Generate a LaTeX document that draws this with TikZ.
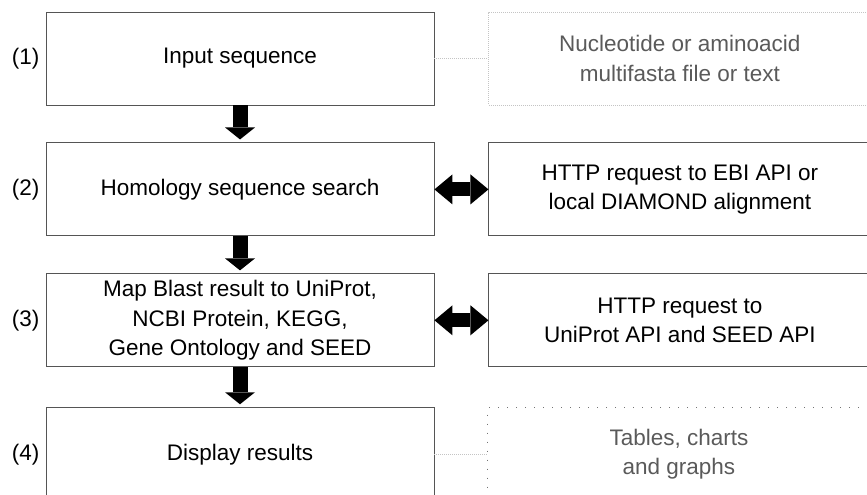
\documentclass[tikz,border=0pt]{standalone}
\usepackage{fontspec}
\setmainfont{Liberation Sans}
\usepackage{xcolor}
\usetikzlibrary{positioning,arrows.meta}

\definecolor{boxgray}{HTML}{555555}
\definecolor{dotgray}{HTML}{C4C4C4}
\definecolor{txtgray}{HTML}{5A5A5A}

\begin{document}
\begin{tikzpicture}[
    x=1pt, y=1pt,
    font=\fontsize{22.5}{29.5}\selectfont,
    node distance=37pt and 54pt,
    stage/.style={rectangle, draw=boxgray, line width=0.9pt, minimum width=388pt, minimum height=93pt, align=center, inner sep=0pt},
    service/.style={stage, minimum width=382pt},
    note/.style={rectangle, draw=dotgray, line width=0.8pt, dash pattern=on 1pt off 1pt, minimum width=382pt, minimum height=93pt, align=center, inner sep=0pt, text=txtgray},
    sparse/.style={note, draw=gray!110, line width=1pt, dash pattern=on 1.3pt off 7.7pt},
    tag/.style={inner sep=0pt},
    fat/.style={-{Triangle[width=30pt,length=12pt,line width=0pt]}, line width=15pt, shorten >=3pt},
    fatboth/.style={{Triangle[width=30pt,length=18pt,line width=0pt]}-{Triangle[width=30pt,length=18pt,line width=0pt]}, line width=14pt},
    link/.style={draw=dotgray, line width=0.8pt, dash pattern=on 1pt off 1pt},
]
\clip (0,0) rectangle (867,-495);

% pipeline steps
\node[stage] (input) at (240,-58.5) {Input sequence};
\node[stage, below=of input] (homology) {Homology sequence search};
\node[stage, below=of homology] (mapping) {Map Blast result to UniProt,\\NCBI Protein, KEGG,\\Gene Ontology and SEED};
\node[stage, below=40pt of mapping] (display) {Display results};

% step numbers
\node[tag, left=6pt of input] (n1) {(1)};
\node[tag, left=6pt of homology] (n2) {(2)};
\node[tag, left=6pt of mapping] (n3) {(3)};
\node[tag, left=6pt of display] (n4) {(4)};

% side boxes
\node[note, right=of input] (fasta) {Nucleotide or aminoacid\\multifasta file or text};
\node[service, right=of homology] (ebi) {HTTP request to EBI API or\\local DIAMOND alignment};
\node[service, right=of mapping] (uniprot) {HTTP request to\\UniProt API and SEED API};
\node[sparse, right=53pt of display] (tables) {Tables, charts\\and graphs};

\draw[fat] (input) -- (homology);
\draw[fat] (homology) -- (mapping);
\draw[fat] (mapping) -- (display);
\draw[fatboth] (homology) -- (ebi);
\draw[fatboth] (mapping) -- (uniprot);
\draw[link] (input) -- (fasta);
\draw[link] (display) -- (tables);
\end{tikzpicture}
\end{document}
